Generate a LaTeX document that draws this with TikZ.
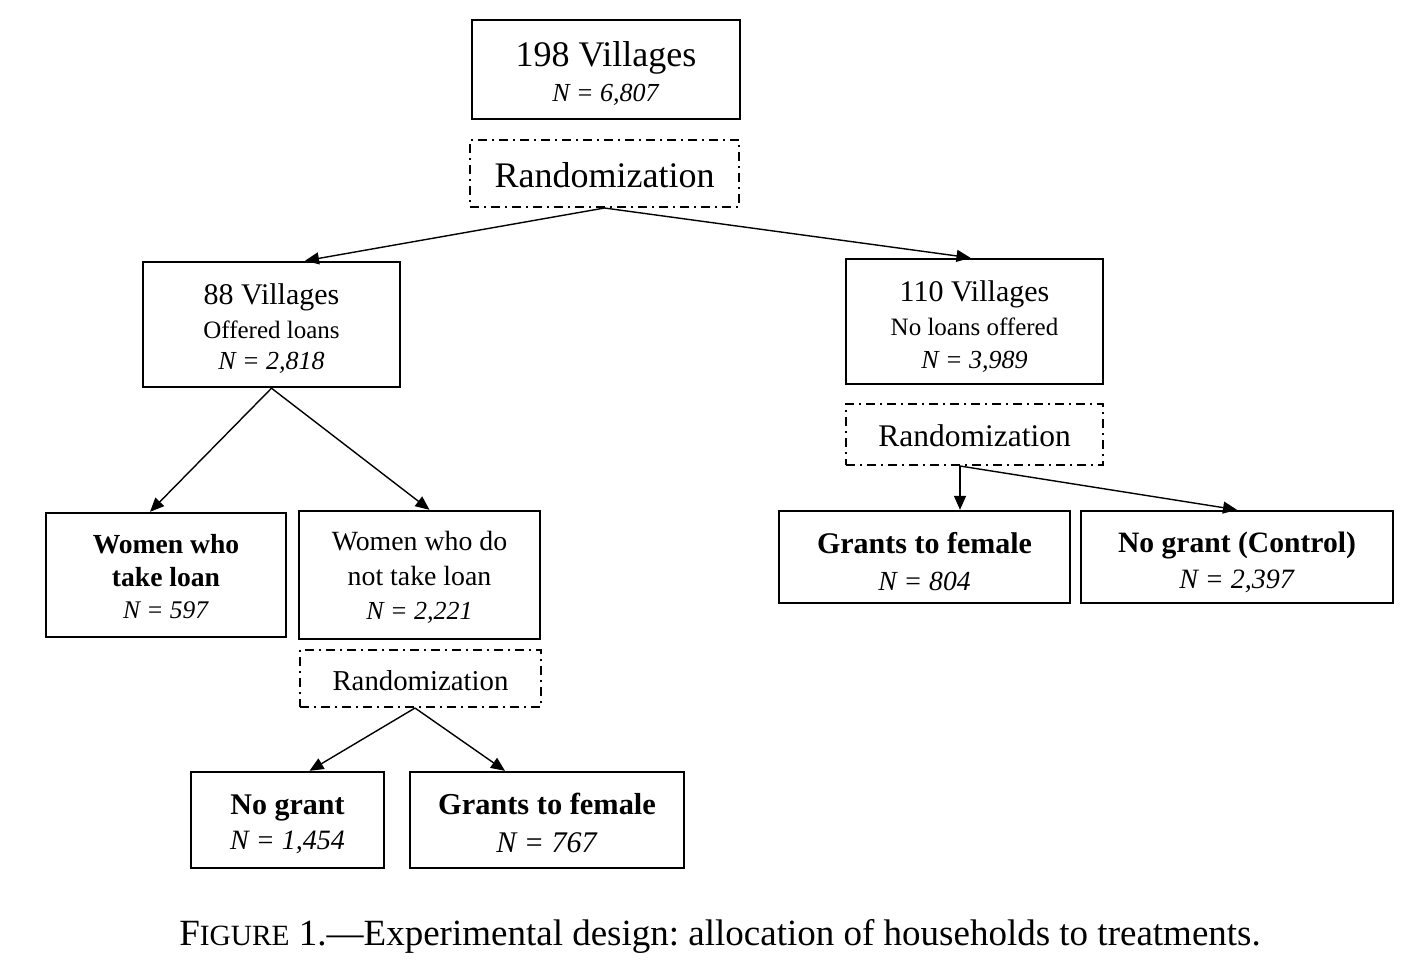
\documentclass[tikz,border=0pt]{standalone}
\usepackage{fontspec}
\setmainfont{Liberation Serif}
\usetikzlibrary{arrows.meta}
\frenchspacing
\newcommand{\fs}[1]{\fontsize{#1}{#1}\selectfont}
\newcommand{\up}[2]{\raisebox{0pt}[\dimexpr\height+#1\relax]{#2}}
\begin{document}
\begin{tikzpicture}[x=0.5pt,y=-0.5pt,
  box/.style={draw, line width=1.2pt, align=center, inner sep=0pt},
  rbox/.style={draw, line width=1pt, dash pattern=on 4.5pt off 2.5pt on 1pt off 2.5pt, align=center, inner sep=0pt},
  arr/.style={-{Triangle[length=7pt,width=6pt]}, line width=0.7pt}]
\useasboundingbox[fill=white] (0,0) rectangle (1428,960);

\node[box, minimum width=134pt, minimum height=49.5pt] (top) at (606,69.5)
  {\fs{18}\up{4pt}{198 Villages}\\[3.5pt]\fs{13}\textit{N = 6,807}};
\node[rbox, minimum width=134.5pt, minimum height=33.5pt] (r1) at (604.5,173.5)
  {\fs{18}\up{2pt}{Randomization}};

\node[box, minimum width=128.5pt, minimum height=62.5pt] (v88) at (271.5,324.5)
  {\fs{15}\up{4.5pt}{88 Villages}\\[4pt]\fs{12.5}Offered loans\\[3.5pt]\fs{13}\textit{N = 2,818}};
\node[box, minimum width=128.5pt, minimum height=62.5pt] (v110) at (974.5,321.5)
  {\fs{15}\up{5.5pt}{110 Villages}\\[4pt]\fs{12.5}No loans offered\\[4.5pt]\fs{13}\textit{N = 3,989}};
\node[rbox, minimum width=128.5pt, minimum height=30.5pt] (r2) at (974.5,434.5)
  {\fs{15.75}\up{1pt}{Randomization}};

\node[box, minimum width=120pt, minimum height=62pt] (wt) at (166,575)
  {\fs{13.8}\up{1.5pt}{\textbf{Women who}}\\[4.5pt]\fs{13.8}\textbf{take loan}\\[4pt]\fs{12.7}\textit{N = 597}};
\node[box, minimum width=120.5pt, minimum height=64pt] (wn) at (419.5,575)
  {\fs{13.9}\up{2.5pt}{Women who do}\\[5.5pt]\fs{13.9}not take loan\\[5pt]\fs{13}\textit{N = 2,221}};
\node[rbox, minimum width=120.5pt, minimum height=28.5pt] (r3) at (420.5,678.5)
  {\fs{14.4}\up{2pt}{Randomization}};

\node[box, minimum width=145.5pt, minimum height=46pt] (gr) at (924.5,557)
  {\fs{15}\up{4.5pt}{\textbf{Grants to female}}\\[6.5pt]\fs{13.8}\textit{N = 804}};
\node[box, minimum width=156pt, minimum height=46pt] (nc) at (1237,557)
  {\fs{14.8}\up{5.5pt}{\textbf{No grant (Control)}}\\[4.5pt]\fs{14}\textit{N = 2,397}};

\node[box, minimum width=96.5pt, minimum height=48pt] (ng) at (287.5,820)
  {\fs{15}\up{4pt}{\textbf{No grant}}\\[4pt]\fs{14}\textit{N = 1,454}};
\node[box, minimum width=137pt, minimum height=48pt] (gb) at (547,820)
  {\fs{15.2}\up{3pt}{\textbf{Grants to female}}\\[7pt]\fs{15}\textit{N = 767}};

\node (cap) at (720,936) {\fs{18.5}F\fs{14.7}IGURE\fs{18.5} 1.---Experimental design: allocation of households to treatments.};

\draw[arr] (r1.south) -- ([xshift=16.75pt]v88.north);
\draw[arr] (r1.south) -- ([xshift=-2pt]v110.north);
\draw[arr] (v88.south) -- ([xshift=-8pt]wt.north);
\draw[arr] (v88.south) -- ([xshift=5pt]wn.north);
\draw[arr] ([xshift=-7.25pt]r2.south) -- ([xshift=17.75pt]gr.north);
\draw[arr] ([xshift=-7.25pt]r2.south) -- (nc.north);
\draw[arr] ([xshift=-2.75pt]r3.south) -- ([xshift=11pt]ng.north);
\draw[arr] ([xshift=-2.75pt]r3.south) -- ([xshift=-21pt]gb.north);
\end{tikzpicture}
\end{document}
